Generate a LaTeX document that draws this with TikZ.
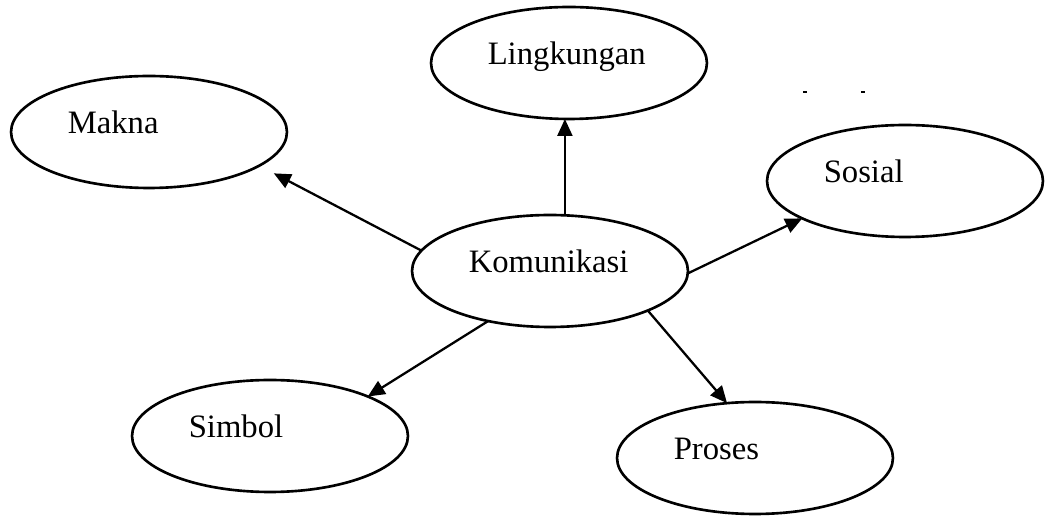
\documentclass[tikz,border=0pt]{standalone}
\usepackage{fontspec}
\setmainfont{Liberation Serif}
\usetikzlibrary{arrows.meta,shapes.geometric}

\begin{document}
\begin{tikzpicture}[x=0.02cm, y=-0.02cm,
		oval/.style={ellipse, draw, line width=1.5pt, minimum width=5.52cm, minimum height=2.24cm, inner sep=2pt, outer sep=0pt, text width=3.25cm, align=left, text height=0.4cm, text depth=0.32cm, font=\fontsize{18.6pt}{22pt}\selectfont},
		link/.style={line width=1.3pt, -{Triangle[length=0.34cm, width=0.3cm]}}]
			%%%%% START %%%%%
			
			\useasboundingbox (0, 0) rectangle (1045, 516);
			
			\node[oval] (kom) at (550, 271) {Komunikasi};
			\node[oval] (makna) at (149, 132) {Makna};
			\node[oval] (lingk) at (569, 63) {Lingkungan};
			\node[oval] (sosial) at (905, 181) {Sosial};
			\node[oval] (simbol) at (270, 436) {Simbol};
			\node[oval] (proses) at (755, 458) {Proses};
			
			\draw[link, shorten >=0.33cm] (kom.171) -- (makna.343.4);
			\draw[link] (kom.75) -- (kom.75 |- lingk.south);
			\draw[link] (kom.359) -- (sosial.200);
			\draw[link] (kom.219) -- (simbol.22);
			\draw[link] (kom.338) -- (proses.117);
			
			\draw[line width=1.2pt] (803, 92) -- (807, 92);
			\draw[line width=1.2pt] (861, 92) -- (865, 92);
			
			%%%%% END %%%%%
		\end{tikzpicture}
\end{document}
